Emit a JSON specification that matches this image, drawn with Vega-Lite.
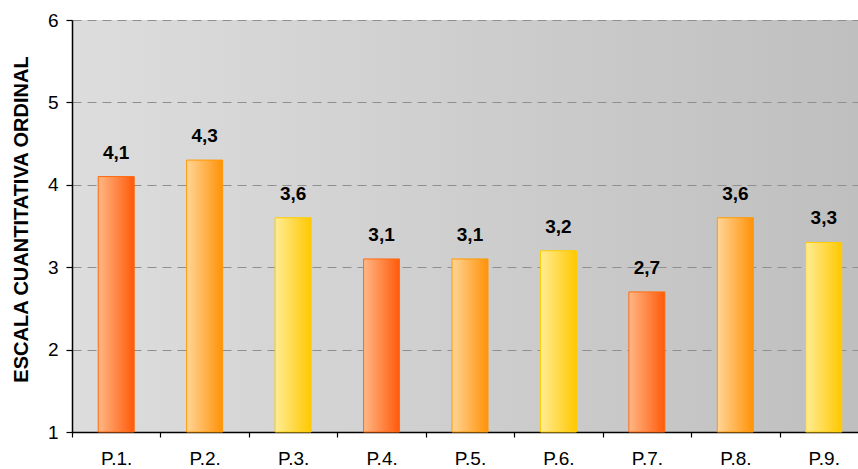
{
  "$schema": "https://vega.github.io/schema/vega-lite/v6.json",
  "autosize": "none",
  "padding": {"left": 72, "top": 20, "right": 0, "bottom": 37},
  "width": 786,
  "height": 412,
  "background": "white",
  "config": {
    "font": "Liberation Sans",
    "locale": {"number": {"decimal": ",", "thousands": ".", "grouping": [3], "currency": ["", " €"]}},
    "view": {
      "stroke": null,
      "fill": {"gradient": "linear", "x1": 0, "y1": 0, "x2": 1, "y2": 0, "stops": [{"offset": 0, "color": "#dddddd"}, {"offset": 1, "color": "#bfbfbf"}]}
    }
  },
  "data": {
    "values": [
      {"p": "P.1.", "v": 4.1, "g": "a"},
      {"p": "P.2.", "v": 4.3, "g": "b"},
      {"p": "P.3.", "v": 3.6, "g": "c"},
      {"p": "P.4.", "v": 3.1, "g": "a"},
      {"p": "P.5.", "v": 3.1, "g": "b"},
      {"p": "P.6.", "v": 3.2, "g": "c"},
      {"p": "P.7.", "v": 2.7, "g": "a"},
      {"p": "P.8.", "v": 3.6, "g": "b"},
      {"p": "P.9.", "v": 3.3, "g": "c"}
    ]
  },
  "encoding": {
    "x": {
      "field": "p", "type": "nominal", "sort": null,
      "scale": {"domain": ["P.1.", "P.2.", "P.3.", "P.4.", "P.5.", "P.6.", "P.7.", "P.8.", "P.9."], "range": [0, 796], "paddingInner": 0, "paddingOuter": 0},
      "axis": {
        "title": null, "labelAngle": 0, "tickBand": "extent", "grid": false,
        "labelFontSize": 19, "labelColor": "black", "labelPadding": 12,
        "domainColor": "black", "domainWidth": 1.5, "tickColor": "black", "tickSize": 5, "tickWidth": 1.2
      }
    },
    "y": {
      "field": "v", "type": "quantitative",
      "scale": {"domain": [1, 6], "zero": false, "nice": false},
      "axis": {
        "values": [1, 2, 3, 4, 5, 6], "format": "d",
        "title": "ESCALA CUANTITATIVA ORDINAL",
        "titleFontSize": 20, "titleFontWeight": "bold", "titleColor": "black",
        "titleX": -51, "titleY": 199, "titleAngle": -90, "titleAlign": "center", "titleBaseline": "middle",
        "labelFontSize": 19, "labelColor": "black", "labelPadding": 8,
        "domainColor": "black", "domainWidth": 1.5, "tickColor": "black", "tickSize": 6, "tickWidth": 1.2,
        "grid": true, "gridColor": "#8f8f8f", "gridDash": [9, 6], "gridWidth": 1
      }
    }
  },
  "layer": [
    {
      "transform": [{"filter": "datum.g === 'a'"}],
      "mark": {"type": "bar", "width": 36, "strokeWidth": 1,
        "stroke": "#ff6a10",
        "fill": {"gradient": "linear", "x1": 0, "y1": 0, "x2": 1, "y2": 0, "stops": [{"offset": 0, "color": "#ffb785"}, {"offset": 1, "color": "#ff5a0a"}]}},
      "encoding": {"y2": {"datum": 1}}
    },
    {
      "transform": [{"filter": "datum.g === 'b'"}],
      "mark": {"type": "bar", "width": 36, "strokeWidth": 1,
        "stroke": "#ff9a00",
        "fill": {"gradient": "linear", "x1": 0, "y1": 0, "x2": 1, "y2": 0, "stops": [{"offset": 0, "color": "#ffd597"}, {"offset": 1, "color": "#ff9208"}]}},
      "encoding": {"y2": {"datum": 1}}
    },
    {
      "transform": [{"filter": "datum.g === 'c'"}],
      "mark": {"type": "bar", "width": 36, "strokeWidth": 1,
        "stroke": "#ffcc00",
        "fill": {"gradient": "linear", "x1": 0, "y1": 0, "x2": 1, "y2": 0, "stops": [{"offset": 0, "color": "#ffec96"}, {"offset": 1, "color": "#ffc800"}]}},
      "encoding": {"y2": {"datum": 1}}
    },
    {
      "mark": {"type": "text", "dy": -18, "baseline": "alphabetic", "fontSize": 19, "fontWeight": "bold", "color": "black"},
      "encoding": {"text": {"field": "v", "type": "quantitative", "format": ".1f"}}
    }
  ]
}
